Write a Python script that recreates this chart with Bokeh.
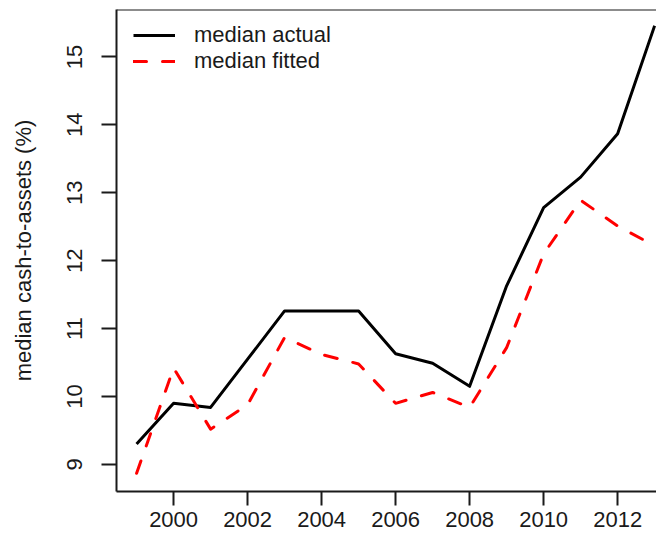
from bokeh.plotting import figure
from bokeh.models import Range1d, FixedTicker, Span, Legend, LegendItem
from bokeh.embed import file_html
from bokeh.resources import INLINE

# ---- data ----
years = [1999, 2000, 2001, 2002, 2003, 2004, 2005, 2006, 2007, 2008, 2009, 2010, 2011, 2012, 2013]
median_actual = [9.30, 9.90, 9.84, 10.55, 11.26, 11.26, 11.26, 10.63, 10.49, 10.15, 11.63, 12.78, 13.23, 13.87, 15.46]
median_fitted = [8.87, 10.42, 9.52, 9.88, 10.87, 10.62, 10.48, 9.90, 10.06, 9.84, 10.72, 12.10, 12.89, 12.51, 12.22]
x_ticks = [2000, 2002, 2004, 2006, 2008, 2010, 2012]
y_ticks = [9, 10, 11, 12, 13, 14, 15]
y_title = "median cash-to-assets (%)"
legend_labels = ["median actual", "median fitted"]

FONT = "Liberation Sans"
FS = "22px"
INK = "#1a1a1a"
Y_TOP = 15.698

p = figure(width=656, height=536, output_backend="svg", toolbar_location=None,
           x_range=Range1d(1998.457, 2013.05), y_range=Range1d(8.602, Y_TOP),
           min_border_left=116, min_border_top=9, min_border_right=0, min_border_bottom=45)
p.grid.visible = False
p.outline_line_color = None
p.background_fill_color = "white"
p.border_fill_color = "white"

for ax in (p.xaxis[0], p.yaxis[0]):
    ax.axis_line_color = INK
    ax.axis_line_width = 2
    ax.major_tick_line_color = INK
    ax.major_tick_line_width = 2
    ax.major_tick_in = 0
    ax.minor_tick_line_color = None
    ax.major_label_text_font = FONT
    ax.major_label_text_font_size = FS
    ax.major_label_text_color = INK

p.xaxis[0].ticker = FixedTicker(ticks=x_ticks)
p.xaxis[0].major_tick_out = 14
p.xaxis[0].major_label_standoff = 6

p.yaxis[0].ticker = FixedTicker(ticks=y_ticks)
p.yaxis[0].major_tick_out = 15
p.yaxis[0].major_label_standoff = 19
p.yaxis[0].major_label_orientation = "vertical"
p.yaxis[0].axis_label = y_title
p.yaxis[0].axis_label_text_font = FONT
p.yaxis[0].axis_label_text_font_size = FS
p.yaxis[0].axis_label_text_font_style = "normal"
p.yaxis[0].axis_label_text_color = INK
p.yaxis[0].axis_label_standoff = 29

# top border of the box
p.add_layout(Span(location=Y_TOP, dimension="width", line_color=INK, line_width=2))

r_act = p.line(years, median_actual, line_color="black", line_width=3, line_join="round")
r_fit = p.line(years, median_fitted, line_color="red", line_width=3,
               line_dash="13 16", line_cap="round", line_join="round")

legend = Legend(items=[LegendItem(label=legend_labels[0], renderers=[r_act]),
                       LegendItem(label=legend_labels[1], renderers=[r_fit])],
                location=(17, 417), orientation="vertical",
                glyph_width=42, glyph_height=26, label_height=26, label_standoff=19,
                spacing=0, padding=0, margin=0,
                border_line_color=None, background_fill_alpha=0,
                label_text_font=FONT, label_text_font_size=FS, label_text_color=INK)
p.add_layout(legend)

open("out.html", "w").write(file_html(p, INLINE))
